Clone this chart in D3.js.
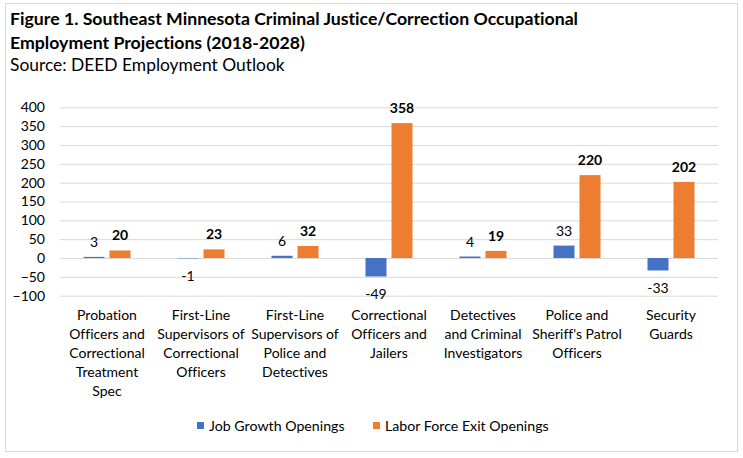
<!DOCTYPE html>
<html lang="en">
<head>
<meta charset="UTF-8">
<script src="https://d3js.org/d3.v7.min.js"></script>
<title>Figure 1</title>
<style>
  body { margin: 0; background: #fff; }
  text { font-family: Lato, "Noto Sans", sans-serif; fill: #000; font-variant-ligatures: none; }
</style>
</head>
<body>
<div id="chart"></div>
<script>
// categories, one entry per line of the wrapped axis label
const categories = [
    ["Probation", "Officers and", "Correctional", "Treatment", "Spec"],
    ["First-Line", "Supervisors of", "Correctional", "Officers"],
    ["First-Line", "Supervisors of", "Police and", "Detectives"],
    ["Correctional", "Officers and", "Jailers"],
    ["Detectives", "and Criminal", "Investigators"],
    ["Police and", "Sheriff's Patrol", "Officers"],
    ["Security", "Guards"]
];
const seriesNames = ["Job Growth Openings", "Labor Force Exit Openings"];
const jobGrowth = [3, -1, 6, -49, 4, 33, -33];
const laborExit = [20, 23, 32, 358, 19, 220, 202];
const yTicks = [-100, -50, 0, 50, 100, 150, 200, 250, 300, 350, 400];
const colors = ["#4472C4", "#ED7D31"];

const width = 743;
const height = 458;
const plot = { left: 60, right: 718, top: 107.3, bottom: 295.7 };

const svg = d3.select("#chart")
    .append("svg")
    .attr("width", width)
    .attr("height", height);

// outer frame
svg.append("rect")
    .attr("x", 5.5).attr("y", 3.5)
    .attr("width", 732).attr("height", 448)
    .attr("fill", "#fff")
    .attr("stroke", "#D9D9D9");

// titles
svg.append("text").attr("x", 10).attr("y", 25)
    .style("font-weight", "bold").style("font-size", "17.7px")
    .text("Figure 1. Southeast Minnesota Criminal Justice/Correction Occupational");
svg.append("text").attr("x", 10).attr("y", 49)
    .style("font-weight", "bold").style("font-size", "17.7px")
    .text("Employment Projections (2018-2028)");
svg.append("text").attr("x", 10).attr("y", 71)
    .style("font-size", "17.4px")
    .text("Source: DEED Employment Outlook");

const idx = d3.range(categories.length);
const x0 = d3.scaleBand()
    .domain(idx)
    .range([plot.left, plot.right])
    .paddingInner(0.5)
    .paddingOuter(0.25);
const x1 = d3.scaleBand()
    .domain([0, 1])
    .range([0, x0.bandwidth()])
    .paddingInner(5 / 26);
const y = d3.scaleLinear()
    .domain([-100, 400])
    .range([plot.bottom, plot.top]);

// gridlines
const yAxis = d3.axisLeft(y)
    .tickValues(yTicks)
    .tickSize(-(plot.right - plot.left))
    .tickPadding(15);
const gy = svg.append("g")
    .attr("transform", `translate(${plot.left},0)`)
    .call(yAxis);
gy.select(".domain").remove();
gy.selectAll(".tick line").attr("stroke", "#D9D9D9");
gy.selectAll(".tick text")
    .style("font-size", "14px")
    .attr("fill", "#000");

const values = [jobGrowth, laborExit];
const groups = svg.append("g");
values.forEach((vals, s) => {
    groups.selectAll(".bar" + s)
        .data(vals)
        .join("rect")
        .attr("x", (d, i) => x0(i) + x1(s))
        .attr("width", x1.bandwidth())
        .attr("y", d => y(Math.max(0, d)))
        .attr("height", d => Math.abs(y(d) - y(0)))
        .attr("fill", colors[s]);

    groups.selectAll(".label" + s)
        .data(vals)
        .join("text")
        .attr("x", (d, i) => x0(i) + x1(s) + x1.bandwidth() / 2)
        .attr("y", d => d >= 0 ? y(d) - 10 : y(d) + 23)
        .attr("text-anchor", "middle")
        .style("font-size", "14px")
        .style("font-weight", s === 1 ? "bold" : "normal")
        .text(d => d);
});

// category labels
const cat = svg.append("g");
categories.forEach((lines, i) => {
    const t = cat.append("text")
        .attr("text-anchor", "middle")
        .style("font-size", "14px");
    lines.forEach((line, j) => {
        t.append("tspan")
            .attr("x", x0(i) + x0.bandwidth() / 2)
            .attr("y", 320 + j * 19)
            .text(line);
    });
});

// legend
const legend = svg.append("g");
const legendX = [197, 373];
seriesNames.forEach((name, s) => {
    legend.append("rect")
        .attr("x", legendX[s]).attr("y", 422)
        .attr("width", 7).attr("height", 7)
        .attr("fill", colors[s]);
    legend.append("text")
        .attr("x", legendX[s] + 12).attr("y", 431)
        .style("font-size", "14.2px")
        .attr("fill", "#262626")
        .text(name);
});
</script>
</body>
</html>
